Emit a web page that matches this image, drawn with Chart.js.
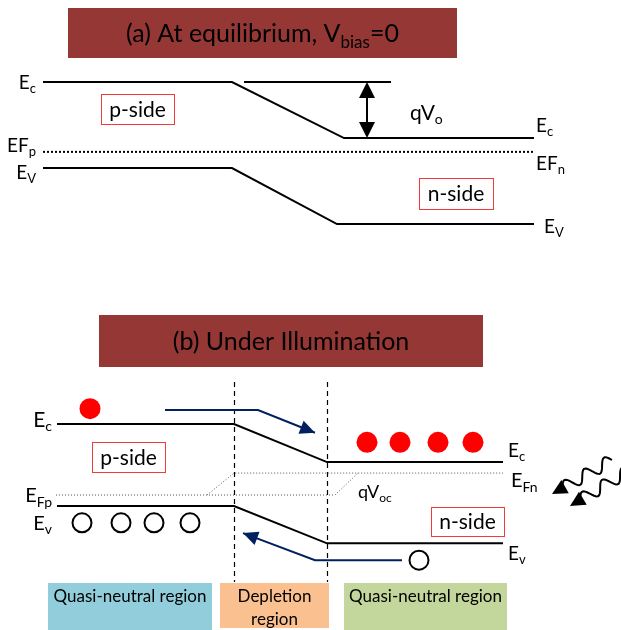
<!DOCTYPE html>
<html>
<head>
<meta charset="utf-8">
<script src="https://cdn.jsdelivr.net/npm/chart.js@4.4.0/dist/chart.umd.min.js"></script>
<style>
  html, body { margin: 0; padding: 0; background: #fff; }
  #wrap { position: relative; width: 621px; height: 630px; overflow: hidden; }
  #wrap canvas { position: absolute; left: 0; }
  #chartA { top: 0; }
  #chartB { top: 300px; }
</style>
</head>
<body>
<div id="wrap">
  <canvas id="chartA" width="621" height="300"></canvas>
  <canvas id="chartB" width="621" height="330"></canvas>
</div>
<script>
// panel (a) : equilibrium, energy in eV measured from Ev on the p-side
const ecPosA = [43, 232, 344, 534];
const ecA = [1.12, 1.12, 0.39, 0.39];
const evPosA = [43, 232, 337, 534];
const evA = [0, 0, -0.73, -0.73];
const efPosA = [43, 534];
const efA = [0.21, 0.21];
const refPosA = [244, 391];
const refA = [1.12, 1.12];

// panel (b) : under illumination
const depletionEdges = [234, 327];
const ecPosB = [57, 234, 327, 503];
const ecB = [1.12, 1.12, 0.60, 0.60];
const evPosB = [57, 234, 327, 503];
const evB = [0, 0, -0.51, -0.51];
const efpPosB = [56, 335, 358];
const efpB = [0.15, 0.15, 0.45];
const efnPosB = [207, 234, 503];
const efnB = [0.15, 0.45, 0.45];
const electronPos = [90, 367, 400, 438, 473];
const electronE = [1.33, 0.87, 0.87, 0.87, 0.87];
const holePos = [82, 121, 154, 190, 419];
const holeE = [-0.23, -0.23, -0.23, -0.23, -0.74];
const driftEPos = [165, 258, 315];
const driftE = [1.31, 1.31, 1.0];
const driftHPos = [402, 315, 243];
const driftH = [-0.74, -0.74, -0.37];

const FONT = "Lato, 'DejaVu Sans', sans-serif";
const NAVY = '#002060';

function pts(xs, ys) {
    return xs.map(function (x, i) { return { x: x, y: ys[i] }; });
}

// text with subscripts, parts = [[text, isSub], ...]
function rich(ctx, parts, x, yMid, size, align) {
    const subSize = Math.round(size * 0.68);
    let w = 0;
    parts.forEach(function (p) {
        ctx.font = (p[1] ? subSize : size) + 'px ' + FONT;
        w += ctx.measureText(p[0]).width;
    });
    let cx = align === 'right' ? x - w : (align === 'center' ? x - w / 2 : x);
    const base = yMid + size * 0.36;
    ctx.textAlign = 'left';
    ctx.textBaseline = 'alphabetic';
    ctx.fillStyle = '#000';
    parts.forEach(function (p) {
        ctx.font = (p[1] ? subSize : size) + 'px ' + FONT;
        ctx.fillText(p[0], cx, p[1] ? base + size * 0.22 : base);
        cx += ctx.measureText(p[0]).width;
    });
}

function head(ctx, fx, fy, tx, ty, len, half, color) {
    const a = Math.atan2(ty - fy, tx - fx);
    const bx = tx - len * Math.cos(a), by = ty - len * Math.sin(a);
    ctx.beginPath();
    ctx.moveTo(tx, ty);
    ctx.lineTo(bx + half * Math.sin(a), by - half * Math.cos(a));
    ctx.lineTo(bx - half * Math.sin(a), by + half * Math.cos(a));
    ctx.closePath();
    ctx.fillStyle = color;
    ctx.fill();
}

function sideBox(ctx, x, y, w, h, label) {
    ctx.fillStyle = '#fff';
    ctx.fillRect(x, y, w, h);
    ctx.strokeStyle = '#f23b3b';
    ctx.lineWidth = 1;
    ctx.strokeRect(x + 0.5, y + 0.5, w, h);
    ctx.font = '21px ' + FONT;
    ctx.fillStyle = '#000';
    ctx.textAlign = 'center';
    ctx.textBaseline = 'middle';
    ctx.fillText(label, x + w / 2, y + h / 2 + 1);
}

function titleBox(ctx, x, y, w, h, parts) {
    ctx.fillStyle = '#953735';
    ctx.fillRect(x, y, w, h);
    rich(ctx, parts, x + w / 2, y + h / 2, 25, 'center');
}

function wavy(ctx, x0, y0, x1, y1) {
    const L = Math.hypot(x1 - x0, y1 - y0), ux = (x1 - x0) / L, uy = (y1 - y0) / L;
    const body = L - 12;
    ctx.beginPath();
    for (let s = 0; s <= body; s++) {
        const off = 6 * Math.sin(s / body * Math.PI * 5);
        const px = x0 + ux * s - uy * off, py = y0 + uy * s + ux * off;
        if (s === 0) ctx.moveTo(px, py); else ctx.lineTo(px, py);
    }
    ctx.strokeStyle = '#000';
    ctx.lineWidth = 2;
    ctx.setLineDash([]);
    ctx.stroke();
    head(ctx, x0, y0, x1, y1, 15, 7.5, '#000');
}

const baseOptions = function (yMin, yMax) {
    return {
        responsive: false,
        animation: false,
        devicePixelRatio: 1,
        events: [],
        layout: { padding: 0, autoPadding: false },
        plugins: { legend: { display: false }, tooltip: { enabled: false } },
        scales: {
            x: { type: 'linear', min: 0, max: 621, display: false },
            y: { type: 'linear', min: yMin, max: yMax, display: false }
        }
    };
};

const line = function (data, extra) {
    return Object.assign({ data: data, showLine: true, borderColor: '#000', borderWidth: 2, pointRadius: 0, clip: false }, extra || {});
};

// panel (a)
const panelA = {
    id: 'panelA',
    beforeDatasetsDraw: function (chart) {
        titleBox(chart.ctx, 68, 8, 389, 50, [['(a) At equilibrium, V', false], ['bias', true], ['=0', false]]);
    },
    afterDatasetsDraw: function (chart) {
        const ctx = chart.ctx, X = chart.scales.x, Y = chart.scales.y;
        const ax = X.getPixelForValue(367);
        const top = Y.getPixelForValue(ecA[0]), bot = Y.getPixelForValue(ecA[2]);
        ctx.strokeStyle = '#000';
        ctx.lineWidth = 2;
        ctx.beginPath();
        ctx.moveTo(ax, top + 12);
        ctx.lineTo(ax, bot - 12);
        ctx.stroke();
        head(ctx, ax, bot, ax, top, 16, 8, '#000');
        head(ctx, ax, top, ax, bot, 16, 8, '#000');

        rich(ctx, [['E', false], ['c', true]], 36, Y.getPixelForValue(ecA[0]), 19, 'right');
        rich(ctx, [['EF', false], ['p', true]], 36, Y.getPixelForValue(efA[0]) - 7, 19, 'right');
        rich(ctx, [['E', false], ['V', true]], 36, Y.getPixelForValue(evA[0]) + 4, 19, 'right');
        rich(ctx, [['E', false], ['c', true]], 536, Y.getPixelForValue(ecA[3]) - 13, 19, 'left');
        rich(ctx, [['EF', false], ['n', true]], 536, Y.getPixelForValue(efA[1]) + 11, 19, 'left');
        rich(ctx, [['E', false], ['V', true]], 544, Y.getPixelForValue(evA[3]) + 2, 19, 'left');
        rich(ctx, [['qV', false], ['o', true]], 410, 112, 21, 'left');

        sideBox(ctx, 101, 94, 73, 30, 'p-side');
        sideBox(ctx, 419, 178, 74, 31, 'n-side');
    }
};

new Chart('chartA', {
    type: 'scatter',
    data: {
        datasets: [
            line(pts(ecPosA, ecA)),
            line(pts(evPosA, evA)),
            line(pts(refPosA, refA)),
            line(pts(efPosA, efA), { borderDash: [2, 2] })
        ]
    },
    options: baseOptions(-1.71875, 2.1875),
    plugins: [panelA]
});

// panel (b)
const panelB = {
    id: 'panelB',
    beforeDatasetsDraw: function (chart) {
        const ctx = chart.ctx, X = chart.scales.x;
        titleBox(ctx, 99, 15, 384, 52, [['(b) Under Illumination', false]]);

        ctx.fillStyle = '#92cddc';
        ctx.fillRect(48, 283, 164, 47);
        ctx.fillStyle = '#fac090';
        ctx.fillRect(220, 283, 109, 45);
        ctx.fillStyle = '#c3d69b';
        ctx.fillRect(344, 283, 163, 47);
        ctx.font = '17px ' + FONT;
        ctx.fillStyle = '#000';
        ctx.textAlign = 'center';
        ctx.textBaseline = 'middle';
        ctx.fillText('Quasi-neutral region', 130, 297);
        ctx.fillText('Quasi-neutral region', 425.5, 297);
        ctx.fillText('Depletion', 274.5, 297);
        ctx.fillText('region', 274.5, 320);

        ctx.strokeStyle = '#000';
        ctx.lineWidth = 1.2;
        ctx.setLineDash([5, 4]);
        depletionEdges.forEach(function (e) {
            const px = Math.round(X.getPixelForValue(e)) + 0.5;
            ctx.beginPath();
            ctx.moveTo(px, 82);
            ctx.lineTo(px, 282);
            ctx.stroke();
        });
        ctx.setLineDash([]);
    },
    afterDatasetsDraw: function (chart) {
        const ctx = chart.ctx, X = chart.scales.x, Y = chart.scales.y;
        const tip = function (xs, ys, i) { return [X.getPixelForValue(xs[i]), Y.getPixelForValue(ys[i])]; };
        let a = tip(driftEPos, driftE, 1), b = tip(driftEPos, driftE, 2);
        head(ctx, a[0], a[1], b[0], b[1], 15, 7, NAVY);
        a = tip(driftHPos, driftH, 1); b = tip(driftHPos, driftH, 2);
        head(ctx, a[0], a[1], b[0], b[1], 15, 7, NAVY);

        rich(ctx, [['E', false], ['c', true]], 52, Y.getPixelForValue(ecB[0]) - 5, 21, 'right');
        rich(ctx, [['E', false], ['Fp', true]], 52, Y.getPixelForValue(efpB[0]), 20, 'right');
        rich(ctx, [['E', false], ['v', true]], 52, Y.getPixelForValue(holeE[0]), 20, 'right');
        rich(ctx, [['E', false], ['c', true]], 508, Y.getPixelForValue(ecB[3]) - 12, 19, 'left');
        rich(ctx, [['E', false], ['Fn', true]], 511, Y.getPixelForValue(efnB[2]) + 7, 20, 'left');
        rich(ctx, [['E', false], ['v', true]], 508, Y.getPixelForValue(evB[3]) + 10, 19, 'left');
        rich(ctx, [['qV', false], ['oc', true]], 358, 192, 18, 'left');

        sideBox(ctx, 92, 142, 73, 30, 'p-side');
        sideBox(ctx, 431, 207, 73, 29, 'n-side');

        wavy(ctx, 612, 160, 552, 194);
        wavy(ctx, 630, 170, 570, 206);
    }
};

new Chart('chartB', {
    type: 'scatter',
    data: {
        datasets: [
            line(pts(efpPosB, efpB), { borderColor: '#555', borderWidth: 1, borderDash: [1, 2] }),
            line(pts(efnPosB, efnB), { borderColor: '#555', borderWidth: 1, borderDash: [1, 2] }),
            line(pts(ecPosB, ecB)),
            line(pts(evPosB, evB)),
            line(pts(driftEPos, driftE), { borderColor: NAVY, borderWidth: 2 }),
            line(pts(driftHPos, driftH), { borderColor: NAVY, borderWidth: 2 }),
            {
                data: pts(electronPos, electronE), showLine: false, clip: false,
                pointRadius: 10.5, pointBackgroundColor: '#ff0000', pointBorderWidth: 0
            },
            {
                data: pts(holePos, holeE), showLine: false, clip: false,
                pointRadius: 9.5, pointBackgroundColor: '#fff', pointBorderColor: '#000', pointBorderWidth: 2
            }
        ]
    },
    options: baseOptions(-124 / 73.2, 206 / 73.2),
    plugins: [panelB]
});
</script>
</body>
</html>
